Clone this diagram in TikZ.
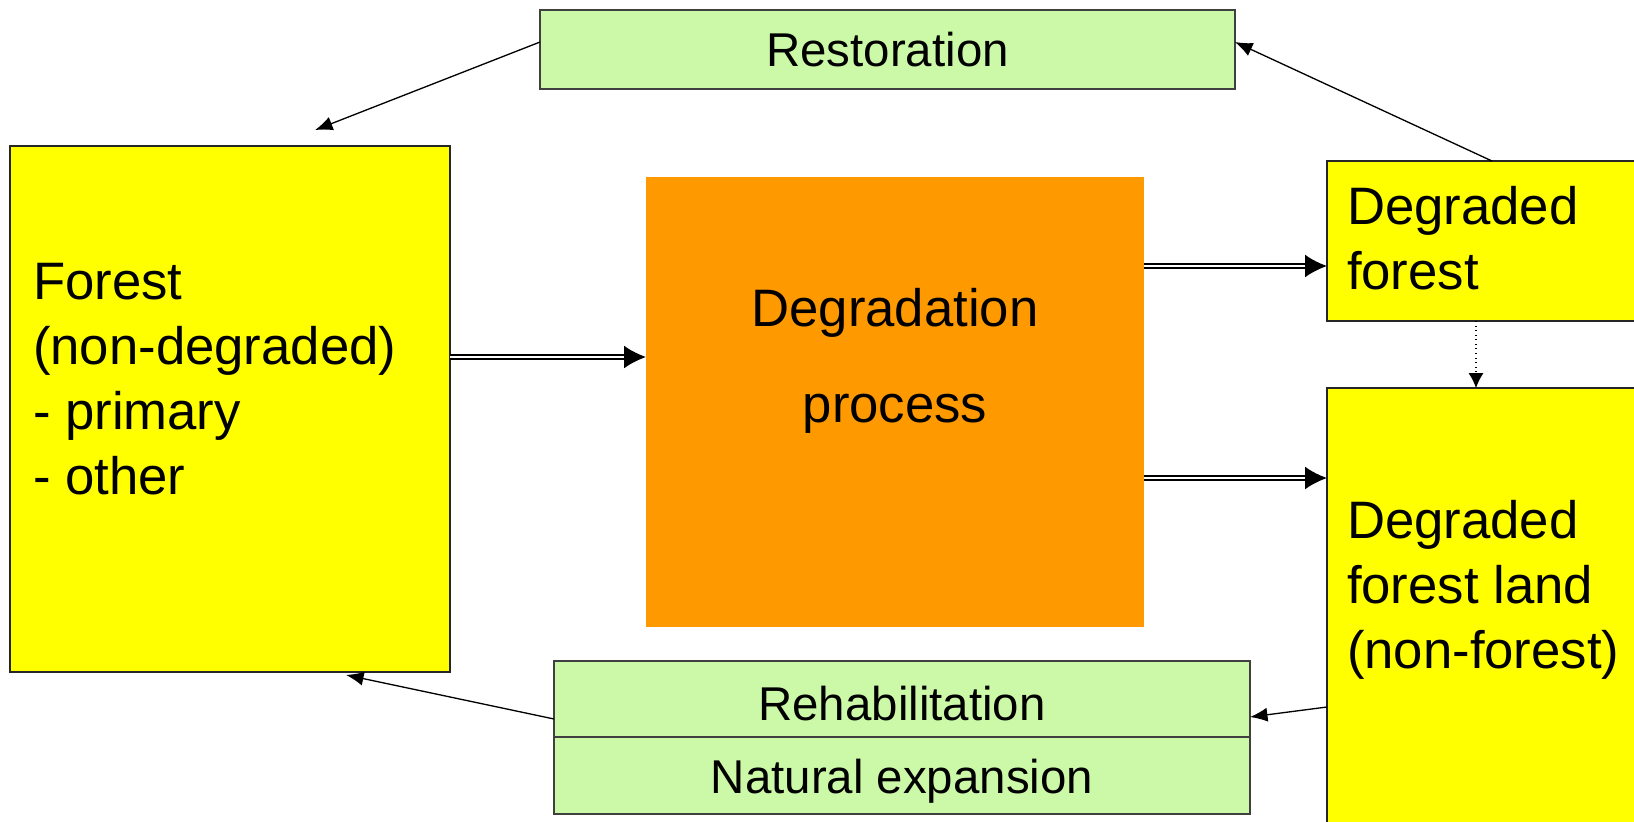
\documentclass[tikz,border=0pt]{standalone}
\usepackage{fontspec}
\setmainfont{Liberation Sans}
\usetikzlibrary{arrows.meta,positioning,calc}
\definecolor{land-color}{HTML}{FFFF00}
\definecolor{proc-color}{HTML}{FF9900}
\definecolor{act-color}{HTML}{CCF9A8}

\begin{document}
\begin{tikzpicture}[x=0.02cm, y=-0.02cm,
                >=Latex,
                every node/.append style={inner sep=0pt, outer sep=0pt},
                land/.style={draw=black!85, line width=0.9pt, fill=land-color},
                act/.style={draw=black!75, line width=0.8pt, fill=act-color, minimum width=13.92cm},
                big/.style={font=\fontsize{30}{36.9}\selectfont, align=left},
                small/.style={font=\fontsize{27}{32}\selectfont},
                dbl/.style={double, double distance=1.1pt, line width=1.1pt, -{Latex[length=12.5pt,width=13pt]}},
                flow/.style={line width=0.75pt, -{Latex[length=10pt,width=8pt]}}]
   \useasboundingbox (0,0) rectangle (1634,822);
   \clip (0,0) rectangle (1634,822);

   % boxes
   \node [land, minimum width=8.8cm, minimum height=10.52cm] (F) at (230,409) {};
   \node [fill=proc-color, minimum width=9.96cm, minimum height=9cm] (D) at (895,402) {};
   \node [land, minimum width=6.6cm, minimum height=3.2cm] (DF) at (1492,241) {};
   \node [land, minimum width=6.6cm, minimum height=9.44cm] (DL) at (1492,624) {};
   \node [act, minimum height=1.58cm, minimum width=13.9cm, small] (Rest) at (887.5,49.5) {Restoration};
   \node [act, minimum height=1.52cm, small, text height=24pt, text depth=0pt] (Rehab) at (902,699) {Rehabilitation};
   \node [act, minimum height=1.54cm, small, text height=20pt, text depth=0pt, below=0pt of Rehab] (Nat) {Natural expansion};

   % texts
   \node [big, anchor=west] (Ftxt) at (33,379) {Forest\\(non-degraded)\\- primary\\- other};
   \node [big, align=center, font=\fontsize{30}{55}\selectfont] (Dtxt) at (895,361) {Degradation\\process};
   \node [big, anchor=west] (DFtxt) at (1347,238) {Degraded\\forest};
   \node [big, anchor=west] (DLtxt) at (1347,590) {Degraded\\forest land\\(non-forest)};

   % arrows
   \draw [dbl] (F.east |- 0,357) -- (D.west |- 0,357);
   \draw [dbl] (D.east |- 0,266) -- (DF.west |- 0,266);
   \draw [dbl] (D.east |- 0,478) -- (DL.west |- 0,478);
   \draw [dotted, line width=0.6pt, -{Latex[length=8.5pt,width=8.5pt]}] (DF.south -| 1476,0) -- (DL.north -| 1476,0);
   \draw [flow] (DF.north) -- (Rest.east |- 0,42);
   \draw [flow] (Rest.west |- 0,42) -- ($(F.north)+(85,-16)$);
   \draw [flow] (DL.west |- 0,707) -- (Rehab.east |- 0,717);
   \draw [flow] (Rehab.west |- 0,719) -- ($(F.south)+(116,3)$);
\end{tikzpicture}
\end{document}
